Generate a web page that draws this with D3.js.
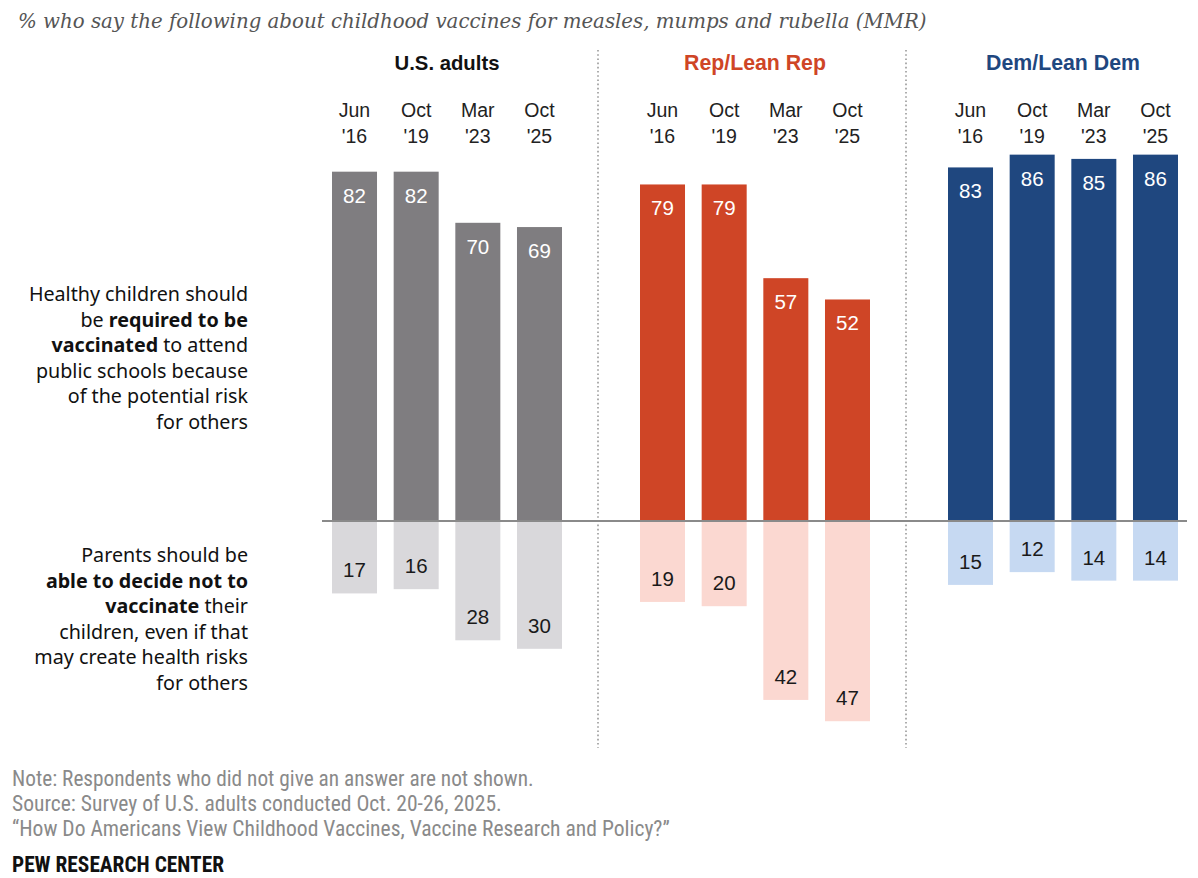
<!DOCTYPE html>
<html>
<head>
<meta charset="utf-8">
<title>MMR vaccine views</title>
<script src="https://d3js.org/d3.v7.min.js"></script>
<style>
  body { margin: 0; background: #fff; }
  svg text { font-family: "Liberation Sans", Arial, sans-serif; }
</style>
</head>
<body>
<div id="chart"></div>
<script>
// data
var groups = ["U.S. adults", "Rep/Lean Rep", "Dem/Lean Dem"];
var months = ["Jun", "Oct", "Mar", "Oct"];
var years = ["'16", "'19", "'23", "'25"];
var requiredUS  = [82, 82, 70, 69];
var requiredRep = [79, 79, 57, 52];
var requiredDem = [83, 86, 85, 86];
var decideUS  = [17, 16, 28, 30];
var decideRep = [19, 20, 42, 47];
var decideDem = [15, 12, 14, 14];

var required = [requiredUS, requiredRep, requiredDem];
var decide = [decideUS, decideRep, decideDem];
var darkColors = ["#7f7d80", "#cf4526", "#1f477f"];
var lightColors = ["#d9d8db", "#fbd8d1", "#c6d9f2"];
var headColors = ["#111111", "#cf4526", "#1f477f"];

var W = 1198, H = 878;
var svg = d3.select("#chart").append("svg")
  .attr("width", W).attr("height", H);

// scales
var x0 = d3.scaleBand().domain(groups).range([290, 1214]);
var x1 = d3.scaleBand().domain(d3.range(4)).range([42, 272]).paddingInner(0.27);
var y = d3.scaleLinear().domain([0, 100]).range([521, 95]);
var yDown = d3.scaleLinear().domain([0, 100]).range([521, 947]);

// fit text width helper
function fit(sel, target) {
  var len = sel.node().getComputedTextLength();
  var fs = parseFloat(sel.style("font-size"));
  sel.style("font-size", (fs * target / len) + "px");
}

// title
var title = svg.append("text")
  .attr("x", 18).attr("y", 28)
  .style("font-family", "'DejaVu Serif', Georgia, serif")
  .style("font-style", "italic")
  .style("font-size", "19px")
  .style("fill", "#555")
  .text("% who say the following about childhood vaccines for measles, mumps and rubella (MMR)");
fit(title, 909);

// dividers
groups.slice(1).forEach(function(g) {
  svg.append("line")
    .attr("x1", x0(g)).attr("x2", x0(g))
    .attr("y1", 50).attr("y2", 748)
    .attr("stroke", "#999")
    .attr("stroke-width", 1.6)
    .attr("stroke-dasharray", "1.6,2.6");
});

groups.forEach(function(g, gi) {
  var gg = svg.append("g").attr("transform", "translate(" + x0(g) + ",0)");
  var bw = x1.bandwidth();
  var centerG = (x1(0) + x1(3) + bw) / 2;

  var head = gg.append("text")
    .attr("x", centerG).attr("y", 70)
    .attr("text-anchor", "middle")
    .style("font-size", "18px")
    .style("font-weight", "bold")
    .style("fill", headColors[gi])
    .text(g);
  fit(head, [105, 142, 154][gi]);

  d3.range(4).forEach(function(i) {
    var cx = x1(i) + bw / 2;
    gg.append("text").attr("x", cx).attr("y", 117)
      .attr("text-anchor", "middle").style("font-size", "19.5px").style("fill", "#222")
      .text(months[i]);
    gg.append("text").attr("x", cx).attr("y", 143)
      .attr("text-anchor", "middle").style("font-size", "19.5px").style("fill", "#222")
      .text(years[i]);
  });

  gg.selectAll("rect.up")
    .data(required[gi])
    .enter().append("rect")
    .attr("class", "up")
    .attr("x", function(d, i) { return x1(i); })
    .attr("y", function(d) { return y(d); })
    .attr("width", bw)
    .attr("height", function(d) { return y(0) - y(d); })
    .style("fill", darkColors[gi]);

  gg.selectAll("text.up")
    .data(required[gi])
    .enter().append("text")
    .attr("class", "up")
    .attr("x", function(d, i) { return x1(i) + bw / 2; })
    .attr("y", function(d) { return y(d) + 31; })
    .attr("text-anchor", "middle")
    .style("font-size", "20.5px")
    .style("fill", "#fff")
    .text(function(d) { return d; });

  gg.selectAll("rect.down")
    .data(decide[gi])
    .enter().append("rect")
    .attr("class", "down")
    .attr("x", function(d, i) { return x1(i); })
    .attr("y", yDown(0))
    .attr("width", bw)
    .attr("height", function(d) { return yDown(d) - yDown(0); })
    .style("fill", lightColors[gi]);

  gg.selectAll("text.down")
    .data(decide[gi])
    .enter().append("text")
    .attr("class", "down")
    .attr("x", function(d, i) { return x1(i) + bw / 2; })
    .attr("y", function(d) { return yDown(d) - 16; })
    .attr("text-anchor", "middle")
    .style("font-size", "20.5px")
    .style("fill", "#1a1a1a")
    .text(function(d) { return d; });
});

// baseline
svg.append("line")
  .attr("x1", x0(groups[0]) + 32)
  .attr("x2", x0(groups[2]) + x1(3) + x1.bandwidth() + 9)
  .attr("y1", y(0)).attr("y2", y(0))
  .attr("stroke", "#8a8a8a").attr("stroke-width", 2);

// row labels
var topLines = [
  [["Healthy children should", false]],
  [["be ", false], ["required to be", true]],
  [["vaccinated", true], [" to attend", false]],
  [["public schools because", false]],
  [["of the potential risk", false]],
  [["for others", false]]
];
var bottomLines = [
  [["Parents should be", false]],
  [["able to decide not to", true]],
  [["vaccinate", true], [" their", false]],
  [["children, even if that", false]],
  [["may create health risks", false]],
  [["for others", false]]
];
function rowLabel(lines, y0) {
  lines.forEach(function(parts, li) {
    var t = svg.append("text")
      .attr("x", 248).attr("y", y0 + li * 25.5)
      .attr("text-anchor", "end")
      .style("font-family", "'Noto Sans', 'Liberation Sans', sans-serif")
      .style("font-size", "19.7px")
      .style("fill", "#111");
    parts.forEach(function(p) {
      t.append("tspan")
        .style("font-weight", p[1] ? "bold" : "normal")
        .text(p[0]);
    });
  });
}
rowLabel(topLines, 301);
rowLabel(bottomLines, 562);

// footer
var noteLines = [
  "Note: Respondents who did not give an answer are not shown.",
  "Source: Survey of U.S. adults conducted Oct. 20-26, 2025.",
  "\u201CHow Do Americans View Childhood Vaccines, Vaccine Research and Policy?\u201D"
];
var noteWidths = [522, 490, 658];
noteLines.forEach(function(s, i) {
  var t = svg.append("text")
    .attr("x", 12).attr("y", 786 + i * 25)
    .style("font-family", "'Liberation Sans Narrow', 'Roboto Condensed', 'Liberation Sans', sans-serif")
    .style("font-size", "16px")
    .style("fill", "#8a8a8a")
    .text(s);
  fit(t, noteWidths[i]);
});
var pew = svg.append("text")
  .attr("x", 12).attr("y", 872)
  .style("font-family", "'Liberation Sans Narrow', 'Roboto Condensed', 'Liberation Sans', sans-serif")
  .style("font-size", "17px")
  .style("font-weight", "bold")
  .style("fill", "#111")
  .text("PEW RESEARCH CENTER");
fit(pew, 212);
</script>
</body>
</html>
